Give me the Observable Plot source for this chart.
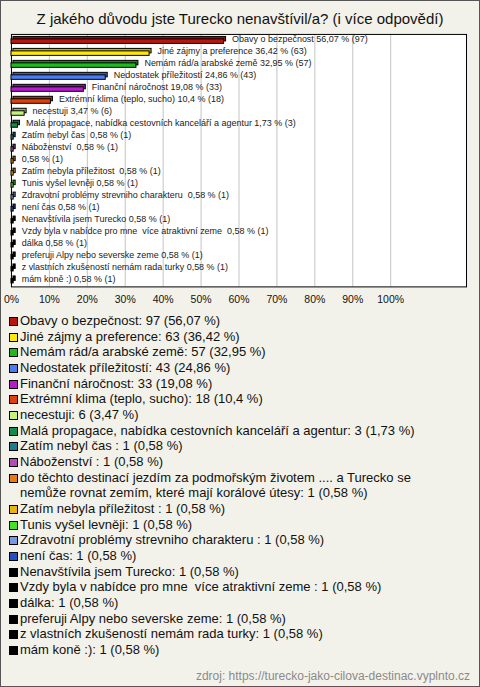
<!DOCTYPE html>
<html>
<head>
<meta charset="utf-8">
<script src="https://cdn.jsdelivr.net/npm/d3@7"></script>
<script src="https://cdn.jsdelivr.net/npm/@observablehq/plot@0.6"></script>
<style>
  html, body { margin: 0; padding: 0; background: #fff; }
  #wrap {
    position: relative; width: 480px; height: 687px; box-sizing: border-box;
    border: 1px solid #555; background: #f3f2ea; overflow: hidden;
    font-family: "Liberation Sans", Arial, sans-serif;
  }
  #title {
    position: absolute; left: -1px; top: 9px; width: 480px; text-align: center;
    font-size: 15px; color: #111;
  }
  #chart { position: absolute; left: -1px; top: -1px; }
  #legend {
    position: absolute; left: 8px; top: 312px; width: 460px;
    font-size: 13px; line-height: 15.67px; color: #111;
  }
  .item { display: flex; align-items: flex-start; }
  .sw {
    flex: none; width: 7px; height: 7px; border: 1px solid #000;
    margin-top: 4px; margin-right: 2px;
  }
  .lab { width: 440px; }
  #source {
    position: absolute; right: 9px; top: 668px; font-size: 12px; color: #8a8a8a;
  }
</style>
</head>
<body>
<div id="wrap">
  <div id="title">Z jakého důvodu jste Turecko nenavštívil/a? (i více odpovědí)</div>
  <div id="chart"></div>
  <div id="legend"></div>
  <div id="source">zdroj: https://turecko-jako-cilova-destinac.vyplnto.cz</div>
</div>
<script>
// Legend names (full answers)
const categories = [
  "Obavy o bezpečnost",
  "Jiné zájmy a preference",
  "Nemám rád/a arabské země",
  "Nedostatek příležitostí",
  "Finanční náročnost",
  "Extrémní klima (teplo, sucho)",
  "necestuji",
  "Malá propagace, nabídka cestovních kanceláří a agentur",
  "Zatím nebyl čas ",
  "Náboženství ",
  "do těchto destinací jezdím za podmořským životem .... a Turecko se nemůže rovnat zemím, které mají korálové útesy",
  "Zatím nebyla příležitost ",
  "Tunis vyšel levněji",
  "Zdravotní problémy strevniho charakteru ",
  "není čas",
  "Nenavštívila jsem Turecko",
  "Vzdy byla v nabídce pro mne  více atraktivní zeme ",
  "dálka",
  "preferuji Alpy nebo severske zeme",
  "z vlastních zkušeností nemám rada turky",
  "mám koně :)"
];
// Names as shown next to the bars (the long one is shown without a name)
const barNames = [
  "Obavy o bezpečnost",
  "Jiné zájmy a preference",
  "Nemám rád/a arabské země",
  "Nedostatek příležitostí",
  "Finanční náročnost",
  "Extrémní klima (teplo, sucho)",
  "necestuji",
  "Malá propagace, nabídka cestovních kanceláří a agentur",
  "Zatím nebyl čas ",
  "Náboženství ",
  "",
  "Zatím nebyla příležitost ",
  "Tunis vyšel levněji",
  "Zdravotní problémy strevniho charakteru ",
  "není čas",
  "Nenavštívila jsem Turecko",
  "Vzdy byla v nabídce pro mne  více atraktivní zeme ",
  "dálka",
  "preferuji Alpy nebo severske zeme",
  "z vlastních zkušeností nemám rada turky",
  "mám koně :)"
];
const counts = [97, 63, 57, 43, 33, 18, 6, 3, 1, 1, 1, 1, 1, 1, 1, 1, 1, 1, 1, 1, 1];
const percents = [56.07, 36.42, 32.95, 24.86, 19.08, 10.4, 3.47, 1.73, 0.58, 0.58, 0.58, 0.58, 0.58, 0.58, 0.58, 0.58, 0.58, 0.58, 0.58, 0.58, 0.58];
const colors = [
  "#b8160c", "#fce80a", "#1fb81f", "#4d7cf0", "#b41ccc", "#e0400e", "#c6f27c",
  "#148a4c", "#1e7c8c", "#b04cb4", "#e87a10", "#e8b414", "#44e024", "#7898e0",
  "#2250c4", "#000000", "#000000", "#000000", "#000000", "#000000", "#000000"
];
const xTicks = [0, 10, 20, 30, 40, 50, 60, 70, 80, 90, 100];

const fmt = v => String(v).replace(".", ",");
const data = categories.map((c, i) => ({
  i, name: c, count: counts[i], pct: percents[i], color: colors[i],
  dark: d3.color(colors[i]).darker(0.8).formatHex(),
  label: (barNames[i] ? barNames[i] + " " : "") + fmt(percents[i]) + " % (" + counts[i] + ")"
}));

const chart = Plot.plot({
  width: 480,
  height: 313,
  marginLeft: 11,
  marginRight: 13,
  marginTop: 34,
  marginBottom: 26,
  style: { fontFamily: "Liberation Sans, Arial, sans-serif", background: "transparent", overflow: "visible" },
  x: { domain: [0, 120], ticks: xTicks, tickFormat: d => d + "%", tickSize: 0, tickPadding: 9, label: null },
  y: { domain: d3.range(categories.length), axis: null, padding: 0 },
  marks: [
    Plot.frame({ fill: "white" }),
    Plot.ruleX(xTicks.slice(1), { stroke: "#c4c4c4", strokeWidth: 1 }),
    Plot.frame({ stroke: "#000" }),
    Plot.barX(data, { x: "pct", y: "i", fill: "dark", stroke: "#000", strokeWidth: 1, insetTop: 3, insetBottom: 4.5, dx: 2, dy: -1.5 }),
    Plot.barX(data, { x: "pct", y: "i", fill: "color", stroke: "#000", strokeWidth: 1, insetTop: 4, insetBottom: 3.5 }),
    Plot.text(data, { x: "pct", y: "i", text: "label", textAnchor: "start", dx: 8, dy: -2, fontSize: 9, fill: "#222" })
  ]
});
chart.querySelectorAll("text").forEach(t => t.setAttribute("xml:space", "preserve"));
chart.style.whiteSpace = "pre";
chart.querySelectorAll("[aria-label='x-axis tick label']").forEach(g => { g.setAttribute("font-size", "10.5"); g.setAttribute("fill", "#111"); });
document.getElementById("chart").appendChild(chart);

const legend = document.getElementById("legend");
data.forEach(d => {
  const row = document.createElement("div");
  row.className = "item";
  const sw = document.createElement("span");
  sw.className = "sw";
  sw.style.background = d.color;
  const lab = document.createElement("span");
  lab.className = "lab";
  lab.style.whiteSpace = "pre-wrap";
  lab.textContent = d.name.trimEnd() + (d.name.endsWith(" ") ? " " : "") + ": " + d.count + " (" + fmt(d.pct) + " %)";
  row.appendChild(sw);
  row.appendChild(lab);
  legend.appendChild(row);
});
</script>
</body>
</html>
